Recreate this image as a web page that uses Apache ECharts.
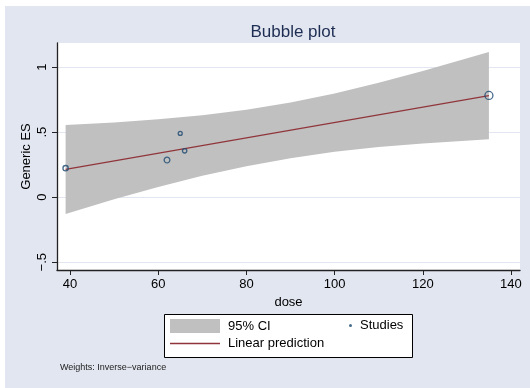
<!DOCTYPE html>
<html>
<head>
<meta charset="utf-8">
<script src="https://cdn.jsdelivr.net/npm/echarts@6/dist/echarts.min.js"></script>
<style>
  html, body { margin: 0; padding: 0; background: #ffffff; }
  #chart { width: 530px; height: 388px; }
</style>
</head>
<body>
<div id="chart"></div>
<script>
// Study-level data: dose, effect size and inverse-variance weight
const studyDose = [39, 62, 65, 66, 135];
const studyES = [0.223, 0.285, 0.49, 0.356, 0.782];
const studyWeight = [28, 33, 16, 19, 64];

// Fitted meta-regression line
const fitDose = [39, 135];
const fitPred = [0.213, 0.780];

// 95% confidence band of the prediction
const bandDose = [39, 50, 60, 70, 80, 90, 100, 110, 120, 135];
const bandUpper = [0.554, 0.573, 0.598, 0.630, 0.672, 0.727, 0.797, 0.879, 0.970, 1.115];
const bandLower = [-0.130, -0.017, 0.078, 0.164, 0.238, 0.300, 0.349, 0.385, 0.412, 0.446];

// Axis ticks
const xTicks = [40, 60, 80, 100, 120, 140];
const yTicks = [-0.5, 0, 0.5, 1];
const yTickLabels = ['\u2212.5', '0', '.5', '1'];

const FONT = '"Liberation Sans", Arial, Helvetica, sans-serif';
const NAVY = '#1A476F';
const MAROON = '#90353B';
const BAND = '#C0C0C0';
const BG = '#E2E6F0';

const chart = echarts.init(document.getElementById('chart'), null, { renderer: 'canvas' });

const option = {
  animation: false,
  backgroundColor: '#ffffff',
  textStyle: { fontFamily: FONT },
  title: {
    text: 'Bubble plot',
    left: 288,
    top: 19,
    textAlign: 'center',
    textStyle: { fontFamily: FONT, fontSize: 17, fontWeight: 'normal', color: '#1E2D53' }
  },
  graphic: [
    {
      type: 'rect', z: -10, silent: true,
      shape: { x: 5, y: 6, width: 525, height: 382 },
      style: { fill: BG }
    },
    {
      type: 'rect', z: 1, silent: true,
      shape: { x: 164.5, y: 314.5, width: 248, height: 43 },
      style: { fill: '#ffffff', stroke: '#000000', lineWidth: 1 }
    },
    {
      type: 'text', z: 1, silent: true,
      left: 60, top: 363,
      style: { text: 'Weights: Inverse\u2212variance', fill: '#222222', font: '9px ' + FONT }
    }
  ],
  grid: {
    left: 57, top: 43, right: 10, bottom: 118,
    show: true, backgroundColor: '#ffffff', borderWidth: 0
  },
  xAxis: {
    type: 'value',
    min: 37.05, max: 142.05,
    name: 'dose', nameLocation: 'middle', nameGap: 22,
    nameTextStyle: { fontFamily: FONT, fontSize: 13, color: '#000000' },
    axisLine: { show: true, onZero: false, lineStyle: { color: '#222222', width: 1.3 } },
    axisTick: { show: true, length: 5, customValues: xTicks, lineStyle: { color: '#222222', width: 1 } },
    axisLabel: { customValues: xTicks, fontFamily: FONT, fontSize: 13, color: '#000000', margin: 8 },
    splitLine: { show: false }
  },
  yAxis: {
    type: 'value',
    min: -0.56, max: 1.185,
    name: 'Generic ES', nameLocation: 'middle', nameGap: 24, nameRotate: 90,
    nameMoveOverlap: false,
    nameTextStyle: { fontFamily: FONT, fontSize: 13, color: '#000000' },
    axisLine: { show: true, onZero: false, lineStyle: { color: '#222222', width: 1.3 } },
    axisTick: { show: true, length: 5, customValues: yTicks, lineStyle: { color: '#222222', width: 1 } },
    axisLabel: {
      customValues: yTicks, rotate: 90, fontFamily: FONT, fontSize: 13, color: '#000000', margin: 8,
      formatter: function (v) {
        const i = yTicks.findIndex(t => Math.abs(t - v) < 1e-9);
        return i >= 0 ? yTickLabels[i] : '';
      }
    },
    splitLine: { show: true, lineStyle: { color: BG, width: 1 } }
  },
  legend: [
    {
      left: 170, top: 316, orient: 'vertical', z: 10, padding: [3, 0, 3, 0],
      itemWidth: 50, itemHeight: 14, itemGap: 4,
      textStyle: { fontFamily: FONT, fontSize: 13, color: '#000000', padding: [0, 0, 0, 3] },
      selectedMode: false,
      data: [
        { name: '95% CI', icon: 'rect', itemStyle: { color: BAND, borderWidth: 0 } },
        { name: 'Linear prediction', icon: 'path://M0,0H50V1.4H0Z', itemStyle: { color: MAROON, borderWidth: 0 } }
      ]
    },
    {
      left: 349, top: 316, orient: 'vertical', z: 10, padding: [3, 0, 3, 0],
      itemWidth: 3, itemHeight: 14,
      textStyle: { fontFamily: FONT, fontSize: 13, color: '#000000', padding: [0, 0, 0, 3] },
      selectedMode: false,
      data: [
        { name: 'Studies', icon: 'circle', itemStyle: { color: NAVY, borderWidth: 0 } }
      ]
    }
  ],
  series: [
    {
      name: '95% CI',
      type: 'custom',
      z: 1,
      silent: true,
      data: [[bandDose[0], bandLower[0]]],
      itemStyle: { color: BAND },
      renderItem: function (params, api) {
        const pts = [];
        for (let i = 0; i < bandDose.length; i++) pts.push(api.coord([bandDose[i], bandUpper[i]]));
        for (let i = bandDose.length - 1; i >= 0; i--) pts.push(api.coord([bandDose[i], bandLower[i]]));
        return {
          type: 'polygon',
          shape: { points: pts, smooth: 0 },
          style: { fill: BAND, stroke: null }
        };
      }
    },
    {
      name: 'Linear prediction',
      type: 'line',
      z: 3,
      silent: true,
      symbol: 'none',
      data: fitDose.map((d, i) => [d, fitPred[i]]),
      lineStyle: { color: MAROON, width: 1.2 },
      itemStyle: { color: MAROON }
    },
    {
      name: 'Studies',
      type: 'scatter',
      z: 4,
      silent: true,
      symbol: 'circle',
      data: studyDose.map((d, i) => [d, studyES[i], studyWeight[i]]),
      symbolSize: function (val) { return Math.sqrt(val[2]); },
      itemStyle: { color: 'rgba(0,0,0,0)', borderColor: NAVY, borderWidth: 1.3 }
    }
  ]
};

chart.setOption(option);
</script>
</body>
</html>
